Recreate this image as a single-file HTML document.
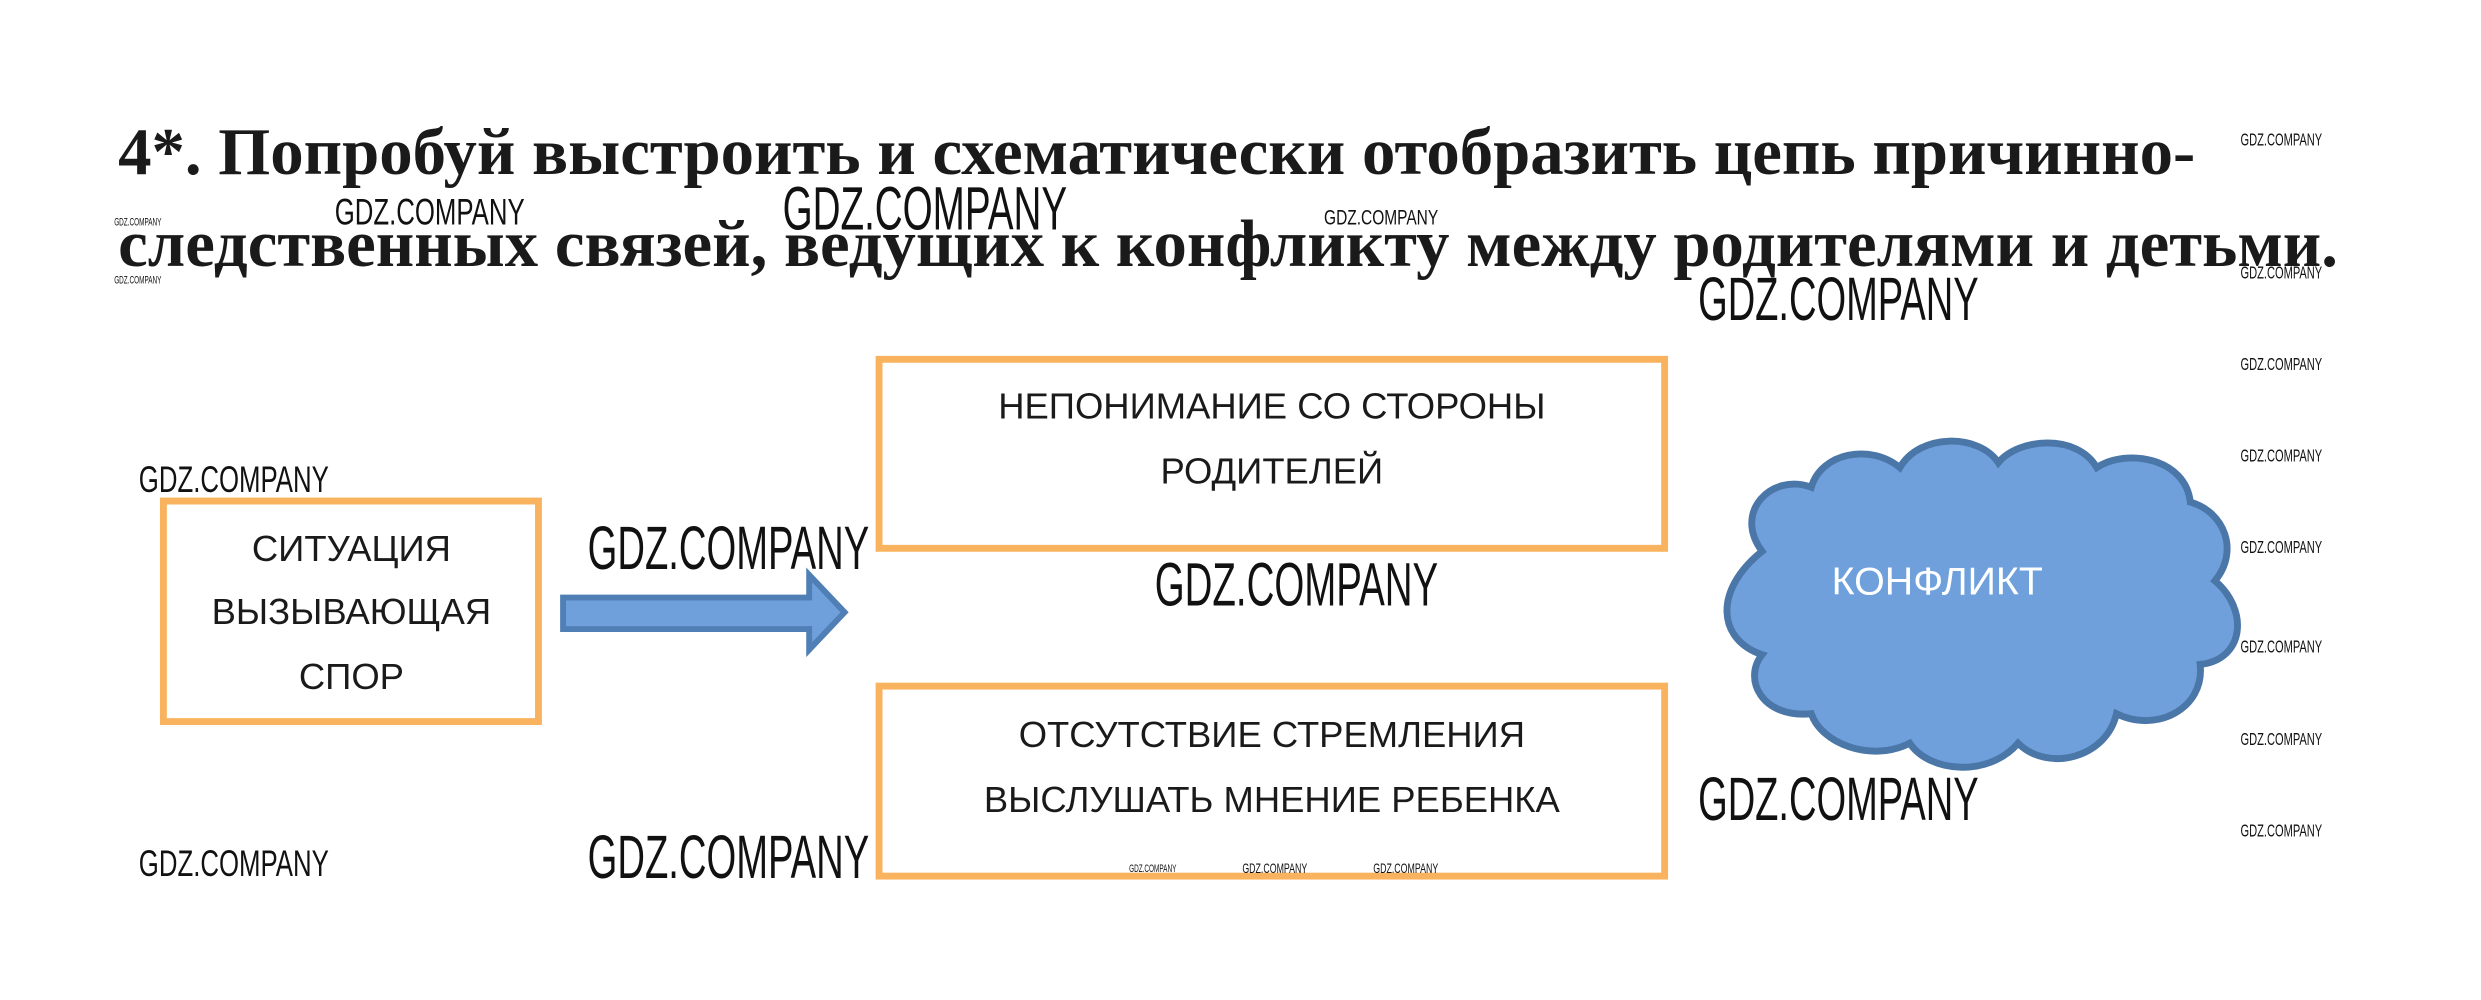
<!DOCTYPE html>
<html><head><meta charset="utf-8"><style>
html,body{margin:0;padding:0;background:#fff;width:2481px;height:1000px;overflow:hidden}
svg{display:block}
.t{font-family:"Liberation Serif","Noto Serif CJK SC",serif;font-weight:bold;font-size:68px;fill:#1a1a1a}
.b{font-family:"Liberation Sans","Noto Sans CJK SC",sans-serif;font-size:37px;fill:#1a1a1a;text-anchor:middle}
.w{font-family:"Liberation Sans",sans-serif;fill:#111}
</style></head><body>
<svg width="2481" height="1000" viewBox="0 0 2481 1000" xmlns="http://www.w3.org/2000/svg">
<g transform="scale(0.9844)">
<text class="t" x="120" y="177" textLength="2110" lengthAdjust="spacingAndGlyphs">4*. Попробуй выстроить и схематически отобразить цепь причинно-</text>
<text class="t" x="120" y="270" textLength="2255" lengthAdjust="spacingAndGlyphs">следственных связей, ведущих к конфликту между родителями и детьми.</text>

<rect x="893" y="365" width="798" height="192" fill="#fff" stroke="#F9B35F" stroke-width="7"/>
<rect x="893" y="697" width="798" height="193" fill="#fff" stroke="#F9B35F" stroke-width="7"/>
<rect x="166" y="509" width="381" height="224" fill="#fff" stroke="#F9B35F" stroke-width="7"/>

<text class="b" x="1292" y="425">НЕПОНИМАНИЕ СО СТОРОНЫ</text>
<text class="b" x="1292" y="491">РОДИТЕЛЕЙ</text>
<text class="b" x="1292" y="759">ОТСУТСТВИЕ СТРЕМЛЕНИЯ</text>
<text class="b" x="1292" y="825">ВЫСЛУШАТЬ МНЕНИЕ РЕБЕНКА</text>
<text class="b" x="357" y="570">СИТУАЦИЯ</text>
<text class="b" x="357" y="634">ВЫЗЫВАЮЩАЯ</text>
<text class="b" x="357" y="700">СПОР</text>

<polygon points="572,607 822,607 822,584 858,622 822,660 822,639 572,639" fill="#6FA0DC" stroke="#4F7FB5" stroke-width="6" stroke-linejoin="miter"/>

<path d="M1790,560 C1760,520 1800,480 1840,495 C1850,460 1900,450 1930,475 C1950,440 2010,440 2030,470 C2050,445 2110,440 2130,475 C2160,455 2220,465 2225,510 C2260,520 2275,560 2250,590 C2285,620 2280,670 2235,675 C2240,720 2190,745 2150,725 C2140,770 2080,785 2050,755 C2020,790 1960,785 1940,755 C1900,775 1850,755 1840,725 C1790,730 1770,690 1790,665 C1745,650 1740,600 1790,560 Z" fill="#6FA0DC" stroke="#4A76A8" stroke-width="7"/>
<text x="1968" y="604" font-family="Liberation Sans,sans-serif" font-size="40" fill="#fff" text-anchor="middle">КОНФЛИКТ</text>

<g class="w">
<text x="597" y="578" font-size="62" textLength="286" lengthAdjust="spacingAndGlyphs">GDZ.COMPANY</text>
<text x="1173" y="615" font-size="62" textLength="288" lengthAdjust="spacingAndGlyphs">GDZ.COMPANY</text>
<text x="1725" y="325" font-size="62" textLength="285" lengthAdjust="spacingAndGlyphs">GDZ.COMPANY</text>
<text x="795" y="233" font-size="62" textLength="289" lengthAdjust="spacingAndGlyphs">GDZ.COMPANY</text>
<text x="1725" y="833" font-size="62" textLength="285" lengthAdjust="spacingAndGlyphs">GDZ.COMPANY</text>
<text x="597" y="892" font-size="62" textLength="286" lengthAdjust="spacingAndGlyphs">GDZ.COMPANY</text>
<text x="141" y="500" font-size="38" textLength="193" lengthAdjust="spacingAndGlyphs">GDZ.COMPANY</text>
<text x="141" y="890" font-size="38" textLength="193" lengthAdjust="spacingAndGlyphs">GDZ.COMPANY</text>
<text x="340" y="228" font-size="38" textLength="193" lengthAdjust="spacingAndGlyphs">GDZ.COMPANY</text>
<text x="1345" y="228" font-size="22" textLength="116" lengthAdjust="spacingAndGlyphs">GDZ.COMPANY</text>
<text x="116" y="229" font-size="11" textLength="48" lengthAdjust="spacingAndGlyphs">GDZ.COMPANY</text>
<text x="116" y="288" font-size="11" textLength="48" lengthAdjust="spacingAndGlyphs">GDZ.COMPANY</text>
<text x="1147" y="886" font-size="11" textLength="48" lengthAdjust="spacingAndGlyphs">GDZ.COMPANY</text>
<text x="1262" y="887" font-size="14" textLength="66" lengthAdjust="spacingAndGlyphs">GDZ.COMPANY</text>
<text x="1395" y="887" font-size="14" textLength="66" lengthAdjust="spacingAndGlyphs">GDZ.COMPANY</text>
<text x="2276" y="148" font-size="18" textLength="83" lengthAdjust="spacingAndGlyphs">GDZ.COMPANY</text>
<text x="2276" y="283" font-size="18" textLength="83" lengthAdjust="spacingAndGlyphs">GDZ.COMPANY</text>
<text x="2276" y="376" font-size="18" textLength="83" lengthAdjust="spacingAndGlyphs">GDZ.COMPANY</text>
<text x="2276" y="469" font-size="18" textLength="83" lengthAdjust="spacingAndGlyphs">GDZ.COMPANY</text>
<text x="2276" y="562" font-size="18" textLength="83" lengthAdjust="spacingAndGlyphs">GDZ.COMPANY</text>
<text x="2276" y="663" font-size="18" textLength="83" lengthAdjust="spacingAndGlyphs">GDZ.COMPANY</text>
<text x="2276" y="757" font-size="18" textLength="83" lengthAdjust="spacingAndGlyphs">GDZ.COMPANY</text>
<text x="2276" y="850" font-size="18" textLength="83" lengthAdjust="spacingAndGlyphs">GDZ.COMPANY</text>
</g>
</g>
</svg>
</body></html>
